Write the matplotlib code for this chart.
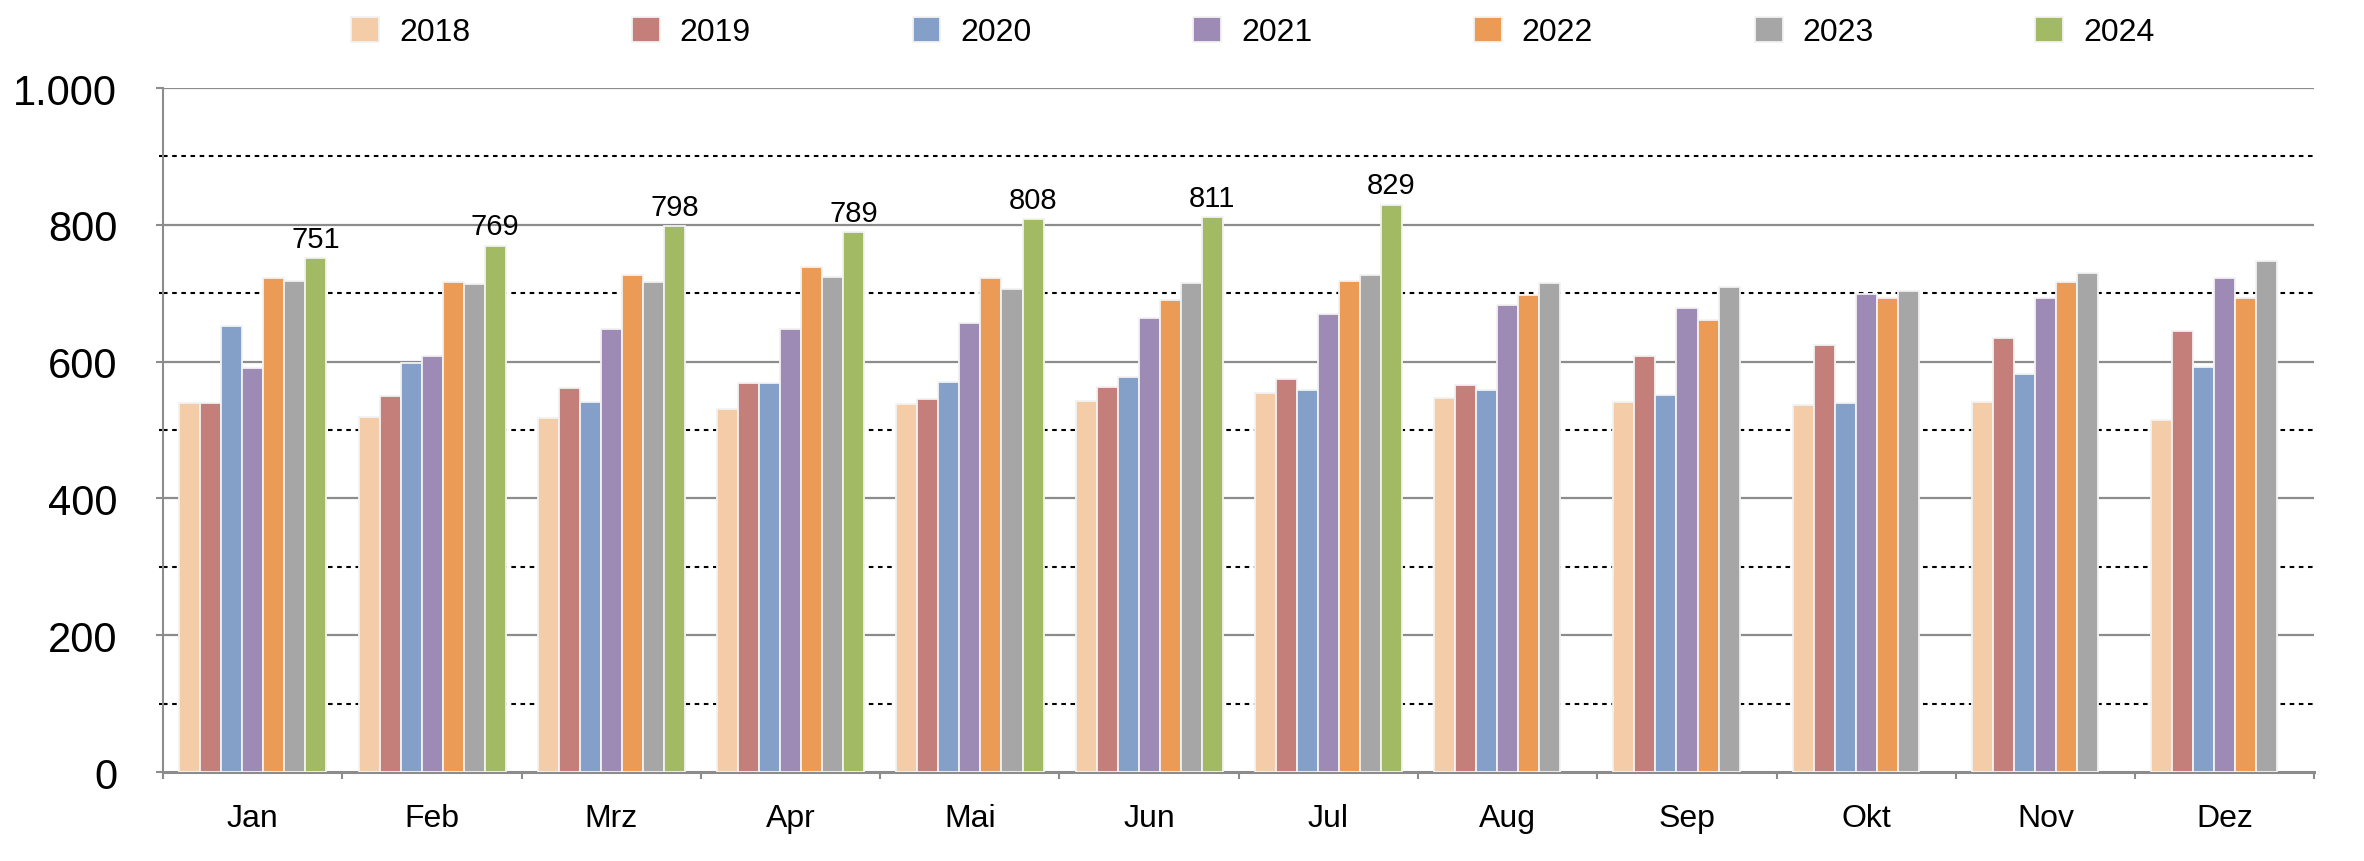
import numpy as np
import matplotlib
matplotlib.use("Agg")
import matplotlib.pyplot as plt
from matplotlib.ticker import FuncFormatter, MultipleLocator, FixedLocator

plt.rcParams['font.family'] = ['Liberation Sans', 'DejaVu Sans']

# data
months = ['Jan', 'Feb', 'Mrz', 'Apr', 'Mai', 'Jun', 'Jul', 'Aug', 'Sep', 'Okt', 'Nov', 'Dez']
years = ['2018', '2019', '2020', '2021', '2022', '2023', '2024']

v2018 = [539, 519, 518, 531, 538, 543, 554, 547, 541, 537, 541, 514]
v2019 = [539, 550, 562, 569, 546, 563, 574, 566, 608, 624, 635, 645]
v2020 = [652, 598, 541, 569, 570, 578, 559, 559, 551, 539, 582, 592]
v2021 = [591, 608, 648, 648, 657, 664, 670, 683, 679, 699, 693, 722]
v2022 = [723, 716, 727, 738, 723, 690, 718, 698, 661, 693, 716, 693]
v2023 = [718, 714, 716, 724, 706, 715, 726, 715, 709, 704, 730, 747]
v2024 = [751, 769, 798, 789, 808, 811, 829]

series = [v2018, v2019, v2020, v2021, v2022, v2023, v2024]
colors = ['#F4CCA8', '#C47F7B', '#84A0C9', '#9E8BB5', '#EB9B56', '#A6A6A6', '#A2BA63']

fig = plt.figure(figsize=(23.64, 8.62), dpi=100)
ax = fig.add_axes([0.069, 0.1032, 0.910, 0.7935])

pitch = 0.1173
x = np.arange(len(months))
for i, (vals, col, yr) in enumerate(zip(series, colors, years)):
    pos = x[:len(vals)] - 3.5 * pitch + (i + 0.5) * pitch - 0.5 * pitch
    pos = x[:len(vals)] - 0.41 + (i + 0.5) * pitch
    bars = ax.bar(pos, vals, width=pitch, color=col, edgecolor='#F2F2F2',
                  linewidth=1.3, label=yr, zorder=3)

# value labels on 2024 bars
pos24 = x[:len(v2024)] - 0.41 + 6.5 * pitch
for px, v in zip(pos24, v2024):
    ax.annotate(str(v), (px, v), xytext=(0, 4), textcoords='offset points',
                ha='center', va='bottom', fontsize=21, zorder=4)

ax.set_xlim(-0.5, len(months) - 0.5)
ax.set_ylim(0, 1000)

# gridlines: solid gray on the majors, dotted black in between
for yv in range(200, 1001, 200):
    ax.axhline(yv, color='#8C8C8C', lw=1.6, zorder=1)
for yv in range(100, 1000, 200):
    ax.axhline(yv, color='black', lw=1.5, ls=(0, (2.2, 2.2)), zorder=1)

ax.yaxis.set_major_locator(MultipleLocator(200))
ax.yaxis.set_minor_locator(MultipleLocator(100))
ax.yaxis.set_major_formatter(FuncFormatter(lambda v, p: f"{v:,.0f}".replace(',', '.')))
ax.tick_params(axis='y', which='major', labelsize=30, length=5, width=1.5,
               color='#8C8C8C', pad=28)
ax.tick_params(axis='y', which='minor', length=3, width=1.5, color='black')

ax.set_xticks(x)
ax.set_xticklabels(months)
ax.xaxis.set_minor_locator(FixedLocator(np.arange(-0.5, len(months), 1.0)))
ax.tick_params(axis='x', which='major', length=0, labelsize=23, pad=22)
ax.tick_params(axis='x', which='minor', length=5, width=1.5, color='#8C8C8C')

for s in ['top', 'right']:
    ax.spines[s].set_visible(False)
ax.spines['left'].set_color('#8C8C8C')
ax.spines['left'].set_linewidth(1.5)
ax.spines['bottom'].set_color('#8C8C8C')
ax.spines['bottom'].set_linewidth(2.2)

fig.legend(loc='center', bbox_to_anchor=(0.530, 0.9617), ncol=7, frameon=False,
           fontsize=23, handlelength=0.875, handleheight=0.84, handletextpad=0.62,
           columnspacing=5.06)

fig.savefig('out.png', dpi=100)
